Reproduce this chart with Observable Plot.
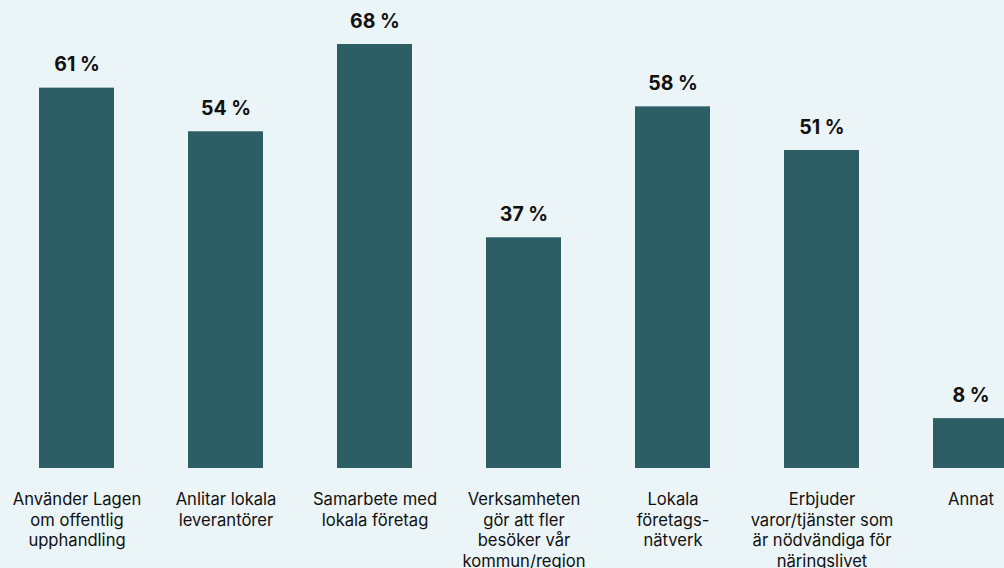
<!DOCTYPE html>
<html>
<head>
<meta charset="utf-8">
<script src="https://cdn.jsdelivr.net/npm/d3@7"></script>
<script src="https://cdn.jsdelivr.net/npm/@observablehq/plot@0.6"></script>
<style>
  html, body { margin: 0; padding: 0; background: #ebf4f6; overflow: hidden; }
  #chart svg { display: block; }
</style>
</head>
<body>
<div id="chart"></div>
<script>
const categories = [
  "Använder Lagen\nom offentlig\nupphandling",
  "Anlitar lokala\nleverantörer",
  "Samarbete med\nlokala företag",
  "Verksamheten\ngör att fler\nbesöker vår\nkommun/region",
  "Lokala\nföretags-\nnätverk",
  "Erbjuder\nvaror/tjänster som\när nödvändiga för\nnäringslivet",
  "Annat"
];
const values = [61, 54, 68, 37, 58, 51, 8];
const valueLabels = ["61 %", "54 %", "68 %", "37 %", "58 %", "51 %", "8 %"];

const data = categories.map((c, i) => ({category: c, value: values[i], label: valueLabels[i]}));

const chart = Plot.plot({
  width: 1004,
  height: 568,
  marginTop: 44,
  marginBottom: 100,
  marginLeft: 0,
  marginRight: 0,
  style: {background: "#ebf4f6", fontFamily: "Inter, sans-serif", color: "#111", overflow: "hidden"},
  x: {domain: categories, range: [2, 1045], paddingInner: 0.5, paddingOuter: 0.25, axis: null, label: null},
  y: {domain: [0, 68], axis: null},
  marks: [
    Plot.barY(data, {x: "category", y: "value", fill: "#2d5e66"}),
    Plot.text(data, {x: "category", y: "value", text: "label", dy: -17, lineAnchor: "bottom",
      fontSize: 19.5, fontWeight: 700, fill: "#111"}),
    Plot.axisX({tickSize: 0, tickPadding: 21.6, fontSize: 16.6, lineHeight: 1.25, lineAnchor: "top", fill: "#111", label: null})
  ]
});
document.getElementById("chart").appendChild(chart);
</script>
</body>
</html>
